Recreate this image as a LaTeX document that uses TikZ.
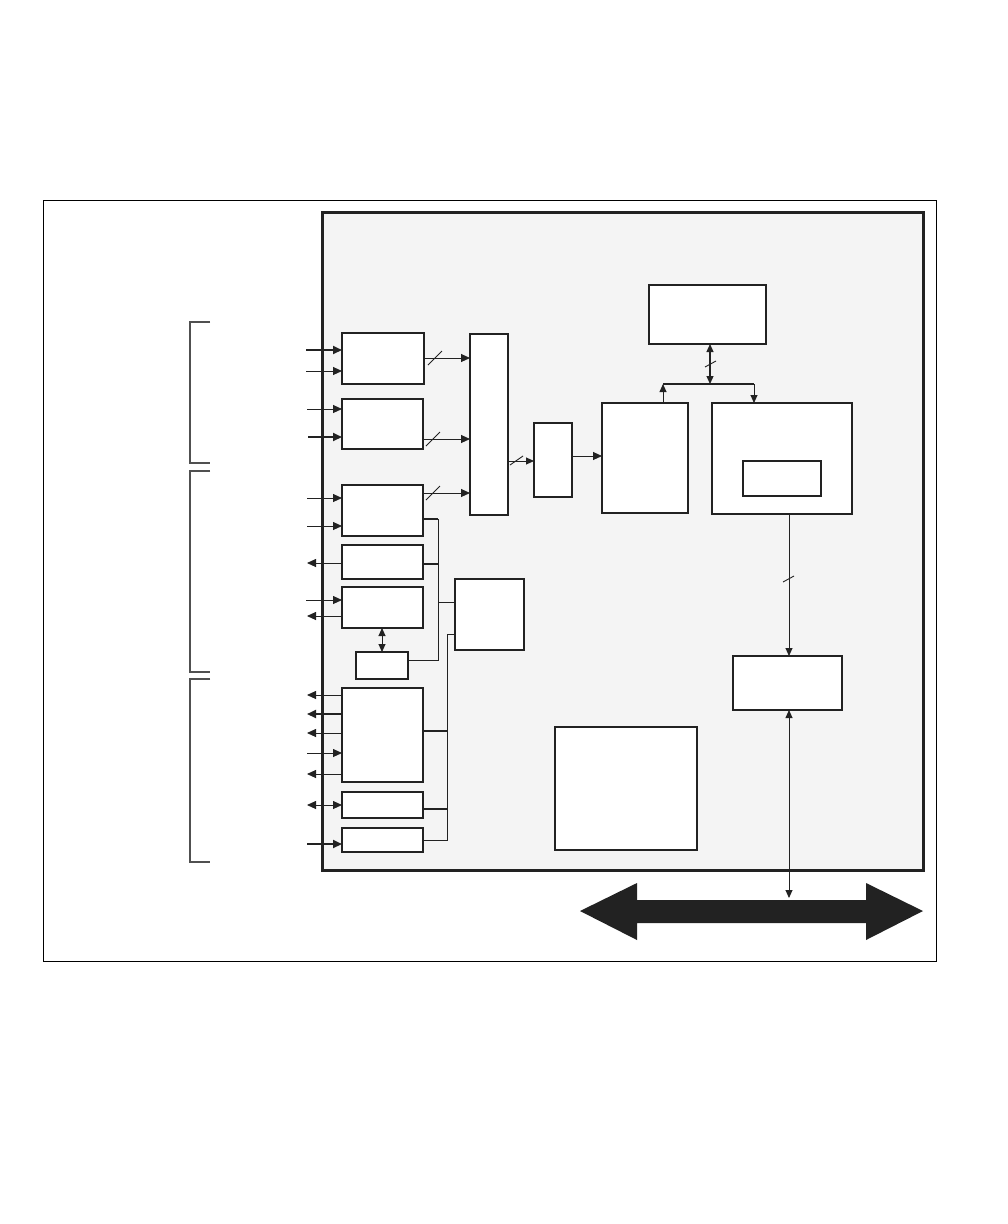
\documentclass[tikz,border=0pt]{standalone}
\usetikzlibrary{arrows.meta}
\definecolor{panel}{HTML}{F4F4F4}
\definecolor{ink}{HTML}{222222}
\definecolor{brk}{HTML}{505050}
\begin{document}
\begin{tikzpicture}[x=1pt,y=-1pt,
  box/.style={draw=ink, fill=white, line width=2pt, inner sep=0pt, outer sep=0pt},
  tbox/.style={box, line width=1.2pt},
  wire/.style={line width=0.9pt, draw=ink},
  thk/.style={line width=2pt, draw=ink},
  tip/.style={-{Triangle[length=9pt,width=8pt]}},
  rtip/.style={{Triangle[length=9pt,width=8pt]}-},
  btip/.style={{Triangle[length=9pt,width=8pt]}-{Triangle[length=9pt,width=8pt]}},
  dtip/.style={{Triangle[length=8pt,width=7pt]}-{Triangle[length=8pt,width=7pt]}},
  stip/.style={-{Triangle[length=8pt,width=7pt]}},
  bracket/.style={line width=1.3pt, draw=brk},
  slash/.style={line width=0.9pt, draw=ink}]
\useasboundingbox (0,0) rectangle (1008,1224);
\fill[white] (0,0) rectangle (1008,1224);
% outer frame
\draw[line width=0.9pt, black] (43,200) rectangle (936,961);
% panel
\draw[line width=3pt, draw=ink, fill=panel] (322,212) rectangle (923,870);
% brackets
\draw[bracket] (210,322) -- (190,322) -- (190,463) -- (210,463);
\draw[bracket] (210,471) -- (190,471) -- (190,672) -- (210,672);
\draw[bracket] (210,679) -- (190,679) -- (190,862) -- (210,862);
% boxes
\node[box, minimum width=82pt, minimum height=51pt] (b1) at (383,358.5) {};
\node[box, minimum width=81pt, minimum height=50pt] (b2) at (382.5,424) {};
\node[box, minimum width=81pt, minimum height=51pt] (b3) at (382.5,510.5) {};
\node[box, minimum width=81pt, minimum height=34pt] (b4) at (382.5,562) {};
\node[box, minimum width=81pt, minimum height=41pt] (b5) at (382.5,607.5) {};
\node[box, minimum width=52pt, minimum height=27pt] (b6) at (382,665.5) {};
\node[box, minimum width=81pt, minimum height=94pt] (b7) at (382.5,735) {};
\node[box, minimum width=81pt, minimum height=26pt] (b8) at (382.5,805) {};
\node[box, minimum width=81pt, minimum height=24pt] (b9) at (382.5,840) {};
\node[box, minimum width=38pt, minimum height=181pt] (mux) at (489,424.5) {};
\node[box, minimum width=38pt, minimum height=74pt] (reg) at (553,460) {};
\node[box, minimum width=86pt, minimum height=110pt] (cpu) at (645,458) {};
\node[box, minimum width=140pt, minimum height=111pt] (mem) at (782,458.5) {};
\node[tbox, minimum width=78pt, minimum height=35pt] (inner) at (782,478.5) {};
\node[box, minimum width=117pt, minimum height=59pt] (top) at (707.5,314.5) {};
\node[box, minimum width=69pt, minimum height=71pt] (hub) at (489.5,614.5) {};
\node[box, minimum width=109pt, minimum height=54pt] (ifc) at (787.5,683) {};
\node[tbox, minimum width=142pt, minimum height=123pt] (bot) at (626,788.5) {};
% left inputs / outputs
\draw[thk, tip] (306,350) -- (b1.west |- 0,350);
\draw[wire, tip] (306,371) -- (b1.west |- 0,371);
\draw[wire, tip] (307,409) -- (b2.west |- 0,409);
\draw[thk, tip] (308,437) -- (b2.west |- 0,437);
\draw[wire, tip] (307,498) -- (b3.west |- 0,498);
\draw[wire, tip] (307,526) -- (b3.west |- 0,526);
\draw[wire, rtip] (307,563) -- (b4.west |- 0,563);
\draw[wire, tip] (306,600) -- (b5.west |- 0,600);
\draw[wire, rtip] (307,616) -- (b5.west |- 0,616);
\draw[wire, rtip] (307,695) -- (b7.west |- 0,695);
\draw[thk, rtip] (307,714) -- (b7.west |- 0,714);
\draw[wire, rtip] (307,733) -- (b7.west |- 0,733);
\draw[wire, tip] (307,753) -- (b7.west |- 0,753);
\draw[wire, rtip] (307,774) -- (b7.west |- 0,774);
\draw[wire, btip] (307,805) -- (b8.west |- 0,805);
\draw[thk, tip] (307,844) -- (b9.west |- 0,844);
% to mux
\draw[wire, tip] (b1.east |- 0,358) -- (mux.west |- 0,358);
\draw[slash] (428,365) -- (442,351);
\draw[wire, tip] (b2.east |- 0,439) -- (mux.west |- 0,439);
\draw[slash] (426,446) -- (440,432);
\draw[wire, tip] (b3.east |- 0,493) -- (mux.west |- 0,493);
\draw[slash] (426,500) -- (440,486);
% mux -> reg -> cpu
\draw[wire, stip] (mux.east |- 0,461) -- (reg.west |- 0,461);
\draw[slash] (510,465) -- (523,456);
\draw[wire, tip] (reg.east |- 0,456) -- (cpu.west |- 0,456);
% hub buses
\coordinate (j1) at (438,519);
\coordinate (j2) at (438,660);
\draw[wire] (b3.east |- j1) -- (j1) -- (j2) -- (b6.east |- j2);
\draw[thk] (b3.east |- 0,519) -- (j1);
\draw[thk] (b4.east |- 0,564) -- (438,564);
\draw[wire] (438,602) -- (hub.west |- 0,602);
\coordinate (k1) at (447,634);
\coordinate (k2) at (447,840);
\draw[wire] (hub.west |- k1) -- (k1) -- (k2) -- (b9.east |- k2);
\draw[thk] (b7.east |- 0,731) -- (447,731);
\draw[thk] (b8.east |- 0,809) -- (447,809);
% b5 - b6
\draw[wire, dtip] (b5.south -| 382,0) -- (b6.north -| 382,0);
% top bus
\coordinate (busL) at (663,384);
\coordinate (busR) at (754,384);
\coordinate (busM) at (710,384);
\draw[line width=1.6pt, draw=ink] (busL) -- (busR);
\draw[line width=1.2pt, draw=ink, dtip] (top.south -| busM) -- (busM);
\draw[slash] (705,367) -- (716,361);
\draw[wire, stip] (cpu.north -| busL) -- (busL);
\draw[wire, stip] (busR) -- (mem.north -| busR);
% mem -> ifc
\draw[wire, stip] (mem.south -| 789,0) -- (ifc.north -| 789,0);
\draw[slash] (783,582) -- (794,576);
% big bus arrow
\fill[ink] (580,911) -- (637,883) -- (637,900) -- (866,900) -- (866,883) -- (923,911)
  -- (866,940) -- (866,923) -- (637,923) -- (637,940) -- cycle;
\coordinate (busTop) at (789,898);
\draw[wire, dtip] (ifc.south -| busTop) -- (busTop);
\end{tikzpicture}
\end{document}
